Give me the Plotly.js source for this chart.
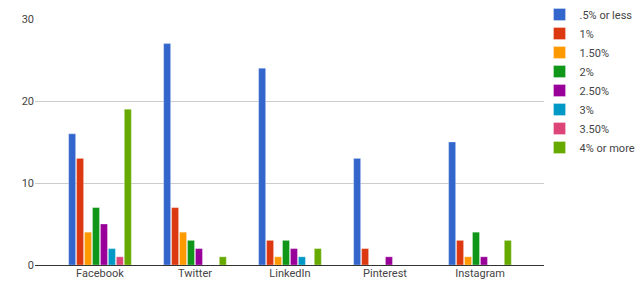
<!DOCTYPE html>
<html><head><meta charset="utf-8">
<script src="https://cdn.plot.ly/plotly-3.0.1.min.js"></script>
<style>html,body{margin:0;padding:0;background:#fff}#chart{width:640px;height:294px}</style>
</head><body><div id="chart"></div>
<script>
const categories = ["Facebook", "Twitter", "LinkedIn", "Pinterest", "Instagram"];
const seriesNames = [".5% or less", "1%", "1.50%", "2%", "2.50%", "3%", "3.50%", "4% or more"];
const s05 = [16, 27, 24, 13, 15];
const s1 = [13, 7, 3, 2, 3];
const s15 = [4, 4, 1, 0, 1];
const s2 = [7, 3, 3, 0, 4];
const s25 = [5, 2, 2, 1, 1];
const s3 = [2, 0, 1, 0, 0];
const s35 = [1, 0, 0, 0, 0];
const s4 = [19, 1, 2, 0, 3];
const yTicks = [0, 10, 20, 30];
const colors = ["#3366cc", "#dc3912", "#ff9900", "#109618", "#990099", "#0099c6", "#dd4477", "#66aa00"];
const seriesValues = [s05, s1, s15, s2, s25, s3, s35, s4];

const traces = seriesValues.map((vals, i) => ({
  type: "bar",
  name: seriesNames[i],
  x: categories,
  y: vals,
  marker: {color: colors[i], line: {color: "rgba(255,255,255,0.6)", width: 0.5}},
  hoverinfo: "none"
}));

const layout = {
  width: 640, height: 294,
  margin: {l: 35, r: 96, t: 19, b: 29, autoexpand: false},
  paper_bgcolor: "#fff", plot_bgcolor: "#fff",
  font: {family: "Roboto, Arial, sans-serif", size: 11, color: "#444"},
  barmode: "group",
  bargap: 0.33,
  bargroupgap: 0.12,
  showlegend: true,
  legend: {xref: "container", yref: "container", x: 0.843, y: 1.0, xanchor: "left", yanchor: "top",
           font: {size: 11, color: "#444"}, maxheight: 1,
           tracegroupgap: 0, itemwidth: 30, bgcolor: "rgba(0,0,0,0)"},
  xaxis: {type: "category", range: [-0.684, 4.674], showgrid: false, ticks: "", showline: false,
          zeroline: false, tickfont: {size: 11, color: "#444"}},
  yaxis: {range: [0, 30], tickvals: yTicks, ticktext: yTicks.map(String), showgrid: true,
          gridcolor: "#cccccc", gridwidth: 1, zeroline: true, zerolinecolor: "#333", zerolinewidth: 1,
          ticks: "", tickfont: {size: 11, color: "#444"}, showline: false}
};

Plotly.newPlot("chart", traces, layout, {displayModeBar: false, staticPlot: true});
</script></body></html>
